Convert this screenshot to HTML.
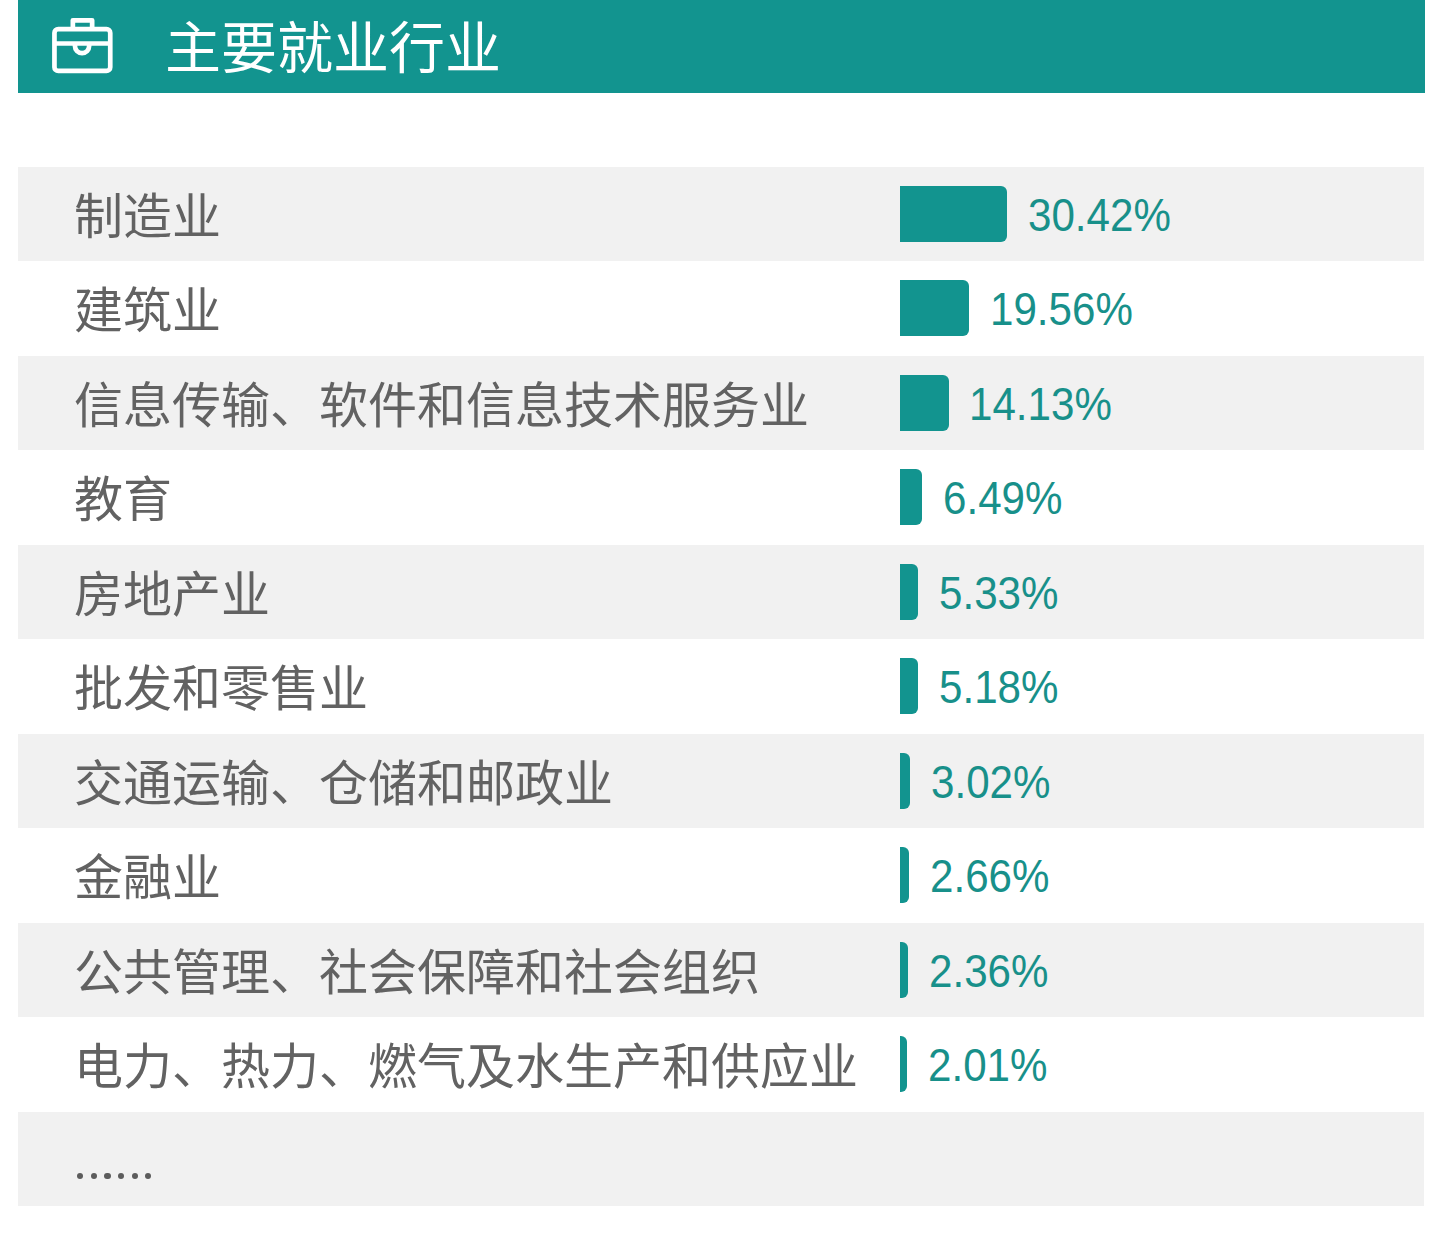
<!DOCTYPE html>
<html lang="zh-CN"><head><meta charset="utf-8"><style>
html,body{margin:0;padding:0;background:#fff;}
body{width:1439px;height:1242px;position:relative;overflow:hidden;font-family:"Liberation Sans",sans-serif;}
.hdr{position:absolute;left:18px;top:0;width:1407px;height:93px;background:#12948f;}
.hdr svg{position:absolute;left:0;top:0;}
.title{position:absolute;left:165px;top:2px;height:93px;line-height:93px;font-size:56px;color:#fff;white-space:nowrap;}
.row{position:absolute;left:18px;width:1406px;}
.g{background:#f1f1f1;}
.lbl{position:absolute;left:56px;top:2.6px;font-size:49px;color:#626262;white-space:nowrap;}
.bar{position:absolute;left:882px;height:56px;background:#12948f;border-radius:0 6px 6px 0;}
.pct{position:absolute;top:0.7px;font-size:46.8px;transform:scaleX(0.9);transform-origin:0 50%;color:#18908a;white-space:nowrap;}
.dot{position:absolute;width:6.4px;height:6.4px;border-radius:50%;background:#5c5c5c;}
</style></head><body>
<div class="hdr">
<svg width="120" height="93" viewBox="0 0 120 93">
<g fill="none" stroke="#fff" stroke-width="4.7" stroke-linejoin="round">
<rect x="36.45" y="29.15" width="55.8" height="41.8" rx="3.8"/>
<path d="M54.85 29 V20.35 H74.15 V29"/>
<path d="M36.45 43.5 H92.25"/>
<path d="M56.95 43.5 V46.05 A7.1 7.1 0 0 0 71.15 46.05 V43.5"/>
</g></svg>
</div>
<div class="title">主要就业行业</div>

<div class="row g" style="top:167.0px;height:94px;">
<div class="lbl" style="line-height:94px">制造业</div>
<div class="bar" style="top:18.6px;width:107px"></div>
<div class="pct" style="left:1010.0px;line-height:94px">30.42%</div>
</div>
<div class="row" style="top:261.5px;height:94.5px;">
<div class="lbl" style="line-height:94.5px">建筑业</div>
<div class="bar" style="top:18.6px;width:69px"></div>
<div class="pct" style="left:971.5px;line-height:94.5px">19.56%</div>
</div>
<div class="row g" style="top:356.0px;height:94px;">
<div class="lbl" style="line-height:94px">信息传输、软件和信息技术服务业</div>
<div class="bar" style="top:18.6px;width:48.8px"></div>
<div class="pct" style="left:951.3px;line-height:94px">14.13%</div>
</div>
<div class="row" style="top:450.5px;height:94.5px;">
<div class="lbl" style="line-height:94.5px">教育</div>
<div class="bar" style="top:18.6px;width:22px"></div>
<div class="pct" style="left:925.0px;line-height:94.5px">6.49%</div>
</div>
<div class="row g" style="top:545.0px;height:94px;">
<div class="lbl" style="line-height:94px">房地产业</div>
<div class="bar" style="top:18.6px;width:18px"></div>
<div class="pct" style="left:921.0px;line-height:94px">5.33%</div>
</div>
<div class="row" style="top:639.5px;height:94.5px;">
<div class="lbl" style="line-height:94.5px">批发和零售业</div>
<div class="bar" style="top:18.6px;width:18px"></div>
<div class="pct" style="left:921.0px;line-height:94.5px">5.18%</div>
</div>
<div class="row g" style="top:734.0px;height:94px;">
<div class="lbl" style="line-height:94px">交通运输、仓储和邮政业</div>
<div class="bar" style="top:18.6px;width:10px"></div>
<div class="pct" style="left:913.0px;line-height:94px">3.02%</div>
</div>
<div class="row" style="top:828.5px;height:94.5px;">
<div class="lbl" style="line-height:94.5px">金融业</div>
<div class="bar" style="top:18.6px;width:9.2px"></div>
<div class="pct" style="left:912.2px;line-height:94.5px">2.66%</div>
</div>
<div class="row g" style="top:923.0px;height:94px;">
<div class="lbl" style="line-height:94px">公共管理、社会保障和社会组织</div>
<div class="bar" style="top:18.6px;width:7.6px"></div>
<div class="pct" style="left:910.6px;line-height:94px">2.36%</div>
</div>
<div class="row" style="top:1017.5px;height:94.5px;">
<div class="lbl" style="line-height:94.5px">电力、热力、燃气及水生产和供应业</div>
<div class="bar" style="top:18.6px;width:7.2px"></div>
<div class="pct" style="left:910.2px;line-height:94.5px">2.01%</div>
</div>
<div class="row g" style="top:1112.0px;height:94px;">
<div class="dot" style="left:58.80px;top:60.80px"></div>
<div class="dot" style="left:72.55px;top:60.80px"></div>
<div class="dot" style="left:86.30px;top:60.80px"></div>
<div class="dot" style="left:99.70px;top:60.80px"></div>
<div class="dot" style="left:113.50px;top:60.80px"></div>
<div class="dot" style="left:126.70px;top:60.80px"></div>
</div>
</body></html>
